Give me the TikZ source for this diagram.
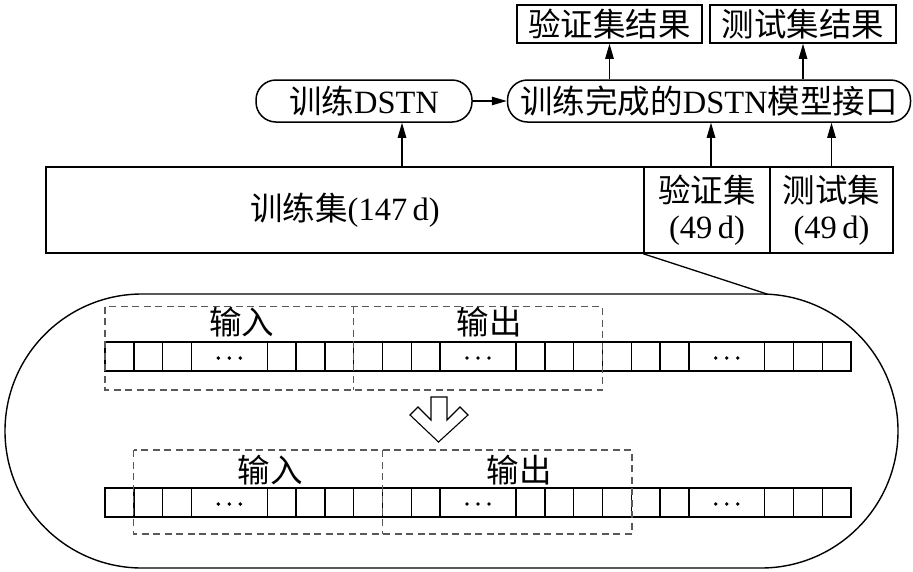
\documentclass[tikz,border=0pt]{standalone}
\usepackage{fontspec}
\setmainfont{Liberation Serif}
\newfontfamily\cjk{Noto Sans CJK SC}
\usetikzlibrary{arrows.meta}
\newcommand\zh[1]{{\cjk #1}}
\begin{document}
\begin{tikzpicture}[x=1pt,y=-1pt,
  font=\fontsize{32.5}{36}\selectfont,
  sqbox/.style={draw, line width=1.5pt, inner sep=0pt, minimum height=38pt},
  rbox/.style={draw, line width=1.5pt, rounded corners=20pt, inner sep=0pt, minimum height=42pt},
  setbox/.style={draw, line width=1.5pt, inner sep=0pt, minimum height=86pt, align=center},
  arr/.style={line width=1.1pt, -{Triangle[length=15pt,width=8.5pt]}},
  cellline/.style={line width=1.4pt},
  dashbox/.style={draw=black!65, line width=1.1pt, dash pattern=on 7pt off 4.5pt},
  lbl/.style={inner sep=0pt}
]
\useasboundingbox (0,0) rectangle (913,571);

% top result boxes
\node[sqbox, minimum width=185pt] (res1) at (609.5,24) {\zh{验证集结果}};
\node[sqbox, minimum width=186pt] (res2) at (803,24) {\zh{测试集结果}};

% rounded boxes
\node[rbox, minimum width=216pt] (dstn) at (364,101) {\zh{训练}DSTN};
\node[rbox, minimum width=403pt] (model) at (709,101) {\zh{训练完成的}DSTN\zh{模型接口}};

% data set bar
\node[setbox, minimum width=598pt] (train) at (345,210) {\zh{训练集}(147\,d)};
\node[setbox, minimum width=126pt] (val) at (707,210) {\zh{验证集}\\(49\,d)};
\node[setbox, minimum width=123pt] (test) at (831.5,210) {\zh{测试集}\\(49\,d)};

% arrows
\draw[arr] (dstn.east) -- (model.west);
\coordinate (a1) at ([xshift=38pt]dstn.south);
\draw[arr] (a1 |- train.north) -- (a1);
\coordinate (a2) at ([xshift=4pt]val.north);
\draw[arr] (a2) -- (a2 |- model.south);
\draw[arr] (test.north) -- (test.north |- model.south);
\draw[arr] (res1.south |- model.north) -- (res1.south);
\draw[arr] (res2.south |- model.north) -- (res2.south);

% magnified region
\draw[line width=1.4pt, rounded corners=137pt] (5,294) rectangle (898,568);
\coordinate (tan) at (767,294);
\draw[line width=1.3pt] (val.south west) -- (tan);

% cell rows
\foreach \y in {342,488}{
  \draw[cellline] (105,\y) rectangle (851.1,{\y+29});
  \foreach \bx in {133.8,162.6,191.4,267.3,296.1,324.9,353.7,382.5,411.3,440.1,516,544.8,573.6,602.4,631.2,660,688.8,764.7,793.5,822.3}{
    \draw[cellline] (\bx,\y) -- (\bx,{\y+29});
  }
  \foreach \cx in {229.35,478.05,726.75}{
    \foreach \d in {-11,0,11}{
      \fill ({\cx+\d},{\y+16}) circle (1.9pt);
    }
  }
}

% dashed windows
\draw[dashbox] (105,306.7) rectangle (602.4,390);
\draw[dashbox] (353.7,306.7) -- (353.7,390);
\draw[dashbox] (133.8,450) rectangle (632,534);
\draw[dashbox] (382.5,450) -- (382.5,534);

\node[lbl] (in1) at (241.5,322) {\zh{输入}};
\node[lbl] (out1) at (489,322) {\zh{输出}};
\node[lbl] (in2) at (270,470) {\zh{输入}};
\node[lbl] (out2) at (519,470) {\zh{输出}};

% hollow down arrow
\draw[line width=1.1pt, line join=miter] (431,397) -- (447,397) -- (447,420) -- (460,407) -- (468,415) -- (438.5,442) -- (410,415) -- (418,407) -- (431,420) -- cycle;
\end{tikzpicture}
\end{document}
